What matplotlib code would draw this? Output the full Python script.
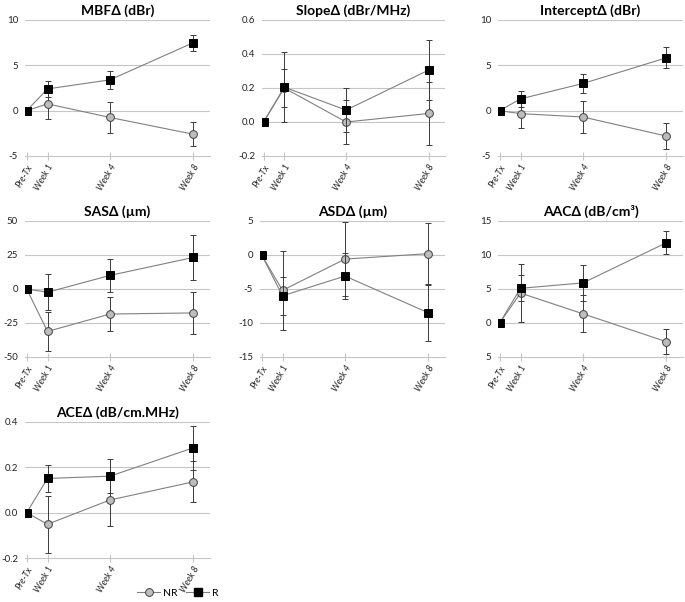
import matplotlib
matplotlib.use("Agg")
import matplotlib.pyplot as plt
from matplotlib.lines import Line2D

plt.rcParams['font.family'] = ['Lato', 'DejaVu Sans']

# time points (weeks) and their labels
weeks = [0, 1, 4, 8]
week_labels = ['Pre-Tx', 'Week 1', 'Week 4', 'Week 8']

# ---- panel data: mean and error for non-responders (NR) and responders (R)
mbf_nr = [0, 0.75, -0.75, -2.6]
mbf_nr_err = [0, 1.65, 1.75, 1.35]
mbf_r = [0, 2.4, 3.4, 7.5]
mbf_r_err = [0, 0.9, 1.0, 0.9]

slope_nr = [0, 0.2, 0.0, 0.05]
slope_nr_err = [0, 0.11, 0.13, 0.185]
slope_r = [0, 0.205, 0.07, 0.305]
slope_r_err = [0, 0.205, 0.128, 0.178]

int_nr = [0, -0.33, -0.7, -2.8]
int_nr_err = [0, 1.63, 1.75, 1.45]
int_r = [0, 1.3, 3.0, 5.83]
int_r_err = [0, 0.87, 1.0, 1.17]

sas_nr = [0, -31.2, -18.4, -17.6]
sas_nr_err = [0, 14.5, 12.6, 15.5]
sas_r = [0, -2.4, 10.0, 23.2]
sas_r_err = [0, 13.4, 12.2, 16.8]

asd_nr = [0, -5.2, -0.6, 0.2]
asd_nr_err = [0, 5.8, 5.5, 4.5]
asd_r = [0, -6.0, -3.1, -8.5]
asd_r_err = [0, 2.8, 3.4, 4.1]

aac_nr = [0, 4.4, 1.35, -2.75]
aac_nr_err = [0, 4.3, 2.7, 1.8]
aac_r = [0, 5.1, 5.9, 11.8]
aac_r_err = [0, 1.9, 2.7, 1.7]

ace_nr = [0, -0.051, 0.056, 0.136]
ace_nr_err = [0, 0.125, 0.113, 0.09]
ace_r = [0, 0.151, 0.161, 0.286]
ace_r_err = [0, 0.058, 0.074, 0.098]

titles = ['MBFΔ (dBr)', 'SlopeΔ (dBr/MHz)', 'InterceptΔ (dBr)',
          'SASΔ (µm)', 'ASDΔ (µm)', 'AACΔ (dB/cm³)', 'ACEΔ (dB/cm.MHz)']

yticks = [
    [-5, 0, 5, 10],
    [-0.2, 0.0, 0.2, 0.4, 0.6],
    [-5, 0, 5, 10],
    [-50, -25, 0, 25, 50],
    [-15, -10, -5, 0, 5],
    [-5, 0, 5, 10, 15],
    [-0.2, 0.0, 0.2, 0.4],
]
ytick_labels = [
    ['-5', '0', '5', '10'],
    ['-0.2', '0.0', '0.2', '0.4', '0.6'],
    ['-5', '0', '5', '10'],
    ['-50', '-25', '0', '25', '50'],
    ['-15', '-10', '-5', '0', '5'],
    ['5', '0', '5', '10', '15'],
    ['-0.2', '0.0', '0.2', '0.4'],
]

series = [
    (mbf_nr, mbf_nr_err, mbf_r, mbf_r_err),
    (slope_nr, slope_nr_err, slope_r, slope_r_err),
    (int_nr, int_nr_err, int_r, int_r_err),
    (sas_nr, sas_nr_err, sas_r, sas_r_err),
    (asd_nr, asd_nr_err, asd_r, asd_r_err),
    (aac_nr, aac_nr_err, aac_r, aac_r_err),
    (ace_nr, ace_nr_err, ace_r, ace_r_err),
]

W, H = 685, 602
# axes boxes in pixels: left, top, right, bottom
boxes = [
    (25, 20, 210, 156), (262, 20, 445, 156), (498, 20, 683, 156),
    (25, 221, 210, 357), (260, 221, 445, 357), (498, 221, 683, 357),
    (25, 422, 210, 558),
]

GRID = '#c6c6c6'
LINE = '#808080'
ERR = '#3a3a3a'
NR_FACE = '#bdbdbd'
MS = 5.6

fig = plt.figure(figsize=(W / 100, H / 100), dpi=100)

for i, (l, t, r, b) in enumerate(boxes):
    ax = fig.add_axes([l / W, 1 - b / H, (r - l) / W, (b - t) / H])
    nr, nr_err, rr, rr_err = series[i]

    ax.errorbar(weeks, nr, yerr=nr_err, color=LINE, lw=0.8, ecolor=ERR,
                elinewidth=0.7, capsize=2.5, capthick=0.7, marker='o', ms=MS,
                mfc=NR_FACE, mec='#404040', mew=0.7, zorder=3)
    ax.errorbar(weeks, rr, yerr=rr_err, color=LINE, lw=0.8, ecolor=ERR,
                elinewidth=0.7, capsize=2.5, capthick=0.7, marker='s', ms=MS,
                mfc='black', mec='black', mew=0.7, zorder=4)

    yt = yticks[i]
    ax.set_ylim(yt[0], yt[-1])
    ax.set_xlim(-0.08, 8.8)
    ax.set_yticks(yt)
    ax.set_yticklabels(ytick_labels[i], fontsize=7, color='#222222')
    for y in yt[1:]:
        ax.axhline(y, color=GRID, lw=0.8, zorder=1)

    ax.set_xticks(weeks)
    ax.set_xticklabels(week_labels, rotation=60, ha='right',
                       rotation_mode='anchor', fontsize=6.5, style='italic',
                       color='#222222')
    ax.tick_params(axis='y', length=0, pad=5)
    ax.tick_params(axis='x', direction='inout', length=6, width=0.8,
                   color=GRID, pad=2)
    for s in ['left', 'right', 'top']:
        ax.spines[s].set_visible(False)
    ax.spines['bottom'].set_color(GRID)
    ax.spines['bottom'].set_linewidth(0.8)
    ax.set_facecolor('none')
    ax.set_title(titles[i], fontsize=10, fontweight='bold', pad=4)

legend_handles = [
    Line2D([], [], color=LINE, lw=0.8, marker='o', ms=MS, mfc=NR_FACE,
           mec='#404040', mew=0.7),
    Line2D([], [], color=LINE, lw=0.8, marker='s', ms=MS, mfc='black',
           mec='black'),
]
fig.legend(legend_handles, ['NR', 'R'], loc='center',
           bbox_to_anchor=(178 / W, 1 - 593 / H), ncol=2, frameon=False,
           fontsize=7.5, handlelength=2.2, columnspacing=0.8,
           handletextpad=0.3)

fig.savefig('out.png', dpi=100)
